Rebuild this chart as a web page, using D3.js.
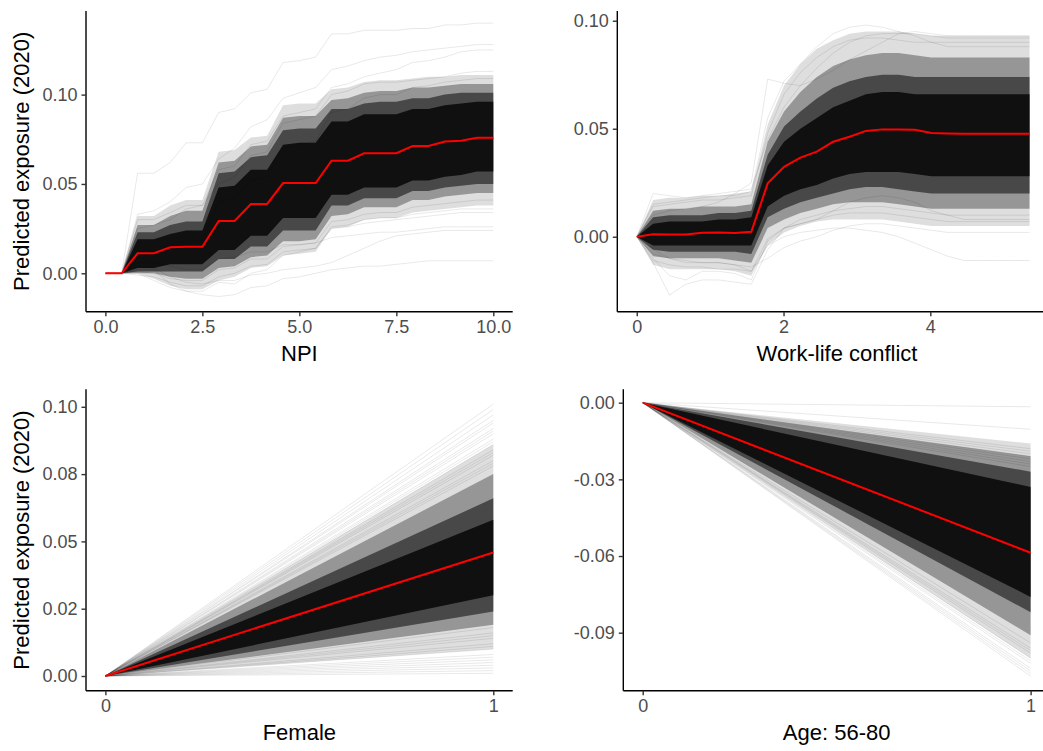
<!DOCTYPE html>
<html>
<head>
<meta charset="utf-8">
<script src="https://cdn.jsdelivr.net/npm/d3@7"></script>
<style>
  body { margin: 0; background: #fff; }
  svg { display: block; }
  text { font-family: "Liberation Sans", Arial, Helvetica, sans-serif; }
</style>
</head>
<body>
<svg id="chart" width="1043" height="751"></svg>
<script>
// ---------- NPI: ICE curves (grid, average curve, quantile envelopes, stray curves) ----------
const npiGrid = [0, 0.42, 0.83, 1.25, 1.67, 2.08, 2.5, 2.92, 3.33, 3.75, 4.17, 4.58, 5, 5.42, 5.83, 6.25, 6.67, 7.08, 7.5, 7.92, 8.33, 8.75, 9.17, 9.58, 10];
const npiMean = [0, 0, .0112, .0112, .0146, .0149, .0149, .0293, .0293, .0388, .0388, .0505, .0505, .0505, .063, .063, .0672, .0672, .0672, .0712, .0712, .0737, .0742, .0759, .0759];
const npiP98 = [0, 0, .032, .032, .038, .041, .041, .068, .069, .076, .077, .094, .095, .095, .103, .104, .107, .108, .108, .109, .110, .110, .111, .111, .111];
const npiP92 = [0, 0, .027, .027, .032, .035, .035, .062, .063, .071, .072, .087, .088, .088, .097, .098, .101, .102, .102, .104, .104, .105, .106, .106, .106];
const npiP84 = [0, 0, .023, .023, .027, .029, .029, .056, .057, .065, .066, .080, .081, .081, .092, .092, .095, .096, .096, .098, .098, .100, .101, .101, .101];
const npiP72 = [0, 0, .019, .019, .022, .024, .024, .048, .049, .058, .058, .072, .073, .073, .085, .085, .089, .089, .089, .092, .092, .094, .095, .096, .096];
const npiP28 = [0, 0, .003, .003, .005, .005, .005, .013, .013, .021, .021, .031, .031, .031, .044, .044, .048, .048, .048, .052, .052, .054, .055, .057, .057];
const npiP16 = [0, 0, .001, .001, .001, .001, .001, .008, .008, .015, .015, .024, .024, .024, .038, .038, .042, .042, .042, .046, .046, .048, .049, .050, .050];
const npiP8  = [0, 0, 0, 0, -.002, -.003, -.003, .003, .004, .009, .010, .018, .018, .019, .032, .033, .037, .037, .037, .041, .041, .043, .044, .045, .045];
const npiP2  = [0, 0, 0, -.003, -.007, -.009, -.009, -.004, -.002, .003, .004, .010, .011, .012, .025, .026, .030, .031, .031, .034, .035, .036, .037, .038, .038];
const npiSparse = [
  [0, 0, .056, .056, .062, .073, .073, .090, .092, .101, .103, .118, .119, .121, .134, .134, .136, .136, .136, .137, .137, .139, .139, .140, .140],
  [0, 0, .033, .035, .040, .048, .050, .064, .070, .082, .086, .098, .101, .104, .114, .116, .119, .121, .122, .124, .125, .126, .127, .128, .128],
  [0, 0, .025, .027, .030, .036, .038, .058, .060, .072, .074, .088, .090, .092, .104, .106, .110, .112, .114, .118, .119, .121, .124, .125, .125],
  [0, 0, 0, -.004, -.008, -.010, -.012, -.013, -.012, -.008, -.007, -.003, -.002, 0, .002, .003, .004, .004, .005, .006, .007, .007, .007, .007, .007],
  [0, 0, .004, .003, -.002, -.005, -.006, -.004, -.004, -.001, 0, .002, .003, .004, .006, .010, .014, .018, .021, .022, .023, .024, .024, .024, .024],
  [0, 0, .006, .006, .004, .002, .002, .008, .009, .012, .012, .016, .016, .017, .020, .021, .022, .023, .023, .024, .025, .026, .026, .026, .026],
  [0, 0, .002, .002, -.006, -.010, -.010, -.005, -.006, 0, .002, .010, .012, .014, .025, .026, .028, .029, .030, .031, .032, .033, .034, .034, .034],
  [0, 0, .030, .030, .034, .038, .038, .050, .054, .066, .068, .084, .086, .088, .100, .102, .106, .107, .107, .108, .109, .110, .112, .113, .113],
  [0, 0, .012, .012, .016, .018, .018, .040, .042, .052, .054, .070, .072, .074, .090, .092, .098, .100, .100, .104, .105, .107, .108, .109, .109],
  [0, 0, -.001, -.002, -.005, -.007, -.007, -.002, 0, .004, .005, .012, .013, .014, .026, .027, .030, .031, .031, .033, .034, .035, .036, .036, .036],
  [0, 0, .001, 0, -.003, -.004, -.004, .002, .003, .008, .008, .015, .016, .017, .029, .030, .033, .034, .034, .037, .038, .039, .040, .041, .041]
];
const npiXTicks = [0, 2.5, 5, 7.5, 10];
const npiXLabels = ["0.0", "2.5", "5.0", "7.5", "10.0"];
const npiYTicks = [0, 0.05, 0.10];
const npiYLabels = ["0.00", "0.05", "0.10"];

// ---------- Work-life conflict: ICE curves ----------
const wlcGrid = [0, .223, .446, .669, .892, 1.115, 1.338, 1.561, 1.784, 2.007, 2.23, 2.453, 2.676, 2.899, 3.122, 3.345, 3.568, 3.791, 4.014, 4.237, 4.46, 4.683, 4.906, 5.129, 5.352];
const wlcMean = [0, .0011, .001, .001, .0019, .002, .0017, .0023, .0247, .0324, .0366, .0394, .044, .0463, .049, .0497, .0497, .0495, .048, .0478, .0477, .0477, .0477, .0477, .0477];
const wlcP98 = [0, .017, .018, .018, .019, .019, .020, .021, .052, .070, .080, .087, .091, .094, .095, .095, .095, .094, .093, .093, .093, .093, .093, .093, .093];
const wlcP92 = [0, .012, .013, .013, .014, .014, .014, .015, .044, .058, .067, .074, .079, .082, .084, .085, .085, .084, .083, .083, .083, .083, .083, .083, .083];
const wlcP84 = [0, .009, .010, .010, .010, .011, .011, .012, .038, .051, .058, .064, .069, .072, .074, .075, .075, .074, .074, .074, .074, .074, .074, .074, .074];
const wlcP72 = [0, .006, .007, .007, .007, .008, .008, .009, .033, .044, .050, .055, .060, .063, .066, .067, .067, .066, .066, .066, .066, .066, .066, .066, .066];
const wlcP28 = [0, -.004, -.004, -.004, -.004, -.004, -.004, -.004, .014, .019, .022, .024, .027, .029, .030, .030, .030, .029, .028, .028, .028, .028, .028, .028, .028];
const wlcP16 = [0, -.006, -.007, -.007, -.007, -.007, -.007, -.008, .009, .013, .016, .018, .020, .022, .023, .023, .022, .021, .020, .020, .020, .020, .020, .020, .020];
const wlcP8  = [0, -.009, -.010, -.010, -.010, -.010, -.011, -.012, .004, .008, .011, .013, .015, .016, .016, .016, .015, .014, .013, .013, .013, .013, .013, .013, .013];
const wlcP2  = [0, -.013, -.015, -.015, -.015, -.015, -.016, -.018, -.004, .002, .005, .007, .008, .008, .008, .008, .007, .006, .005, .005, .005, .005, .005, .005, .005];
const wlcSparse = [
  [0, -.006, -.010, -.012, -.012, -.012, -.013, -.016, -.004, 0, .002, .003, .004, .004, .003, .002, 0, -.003, -.006, -.009, -.011, -.011, -.011, -.011, -.011],
  [0, -.012, -.027, -.022, -.020, -.020, -.021, -.022, -.006, .004, .008, .010, .012, .013, .014, .014, .013, .012, .011, .010, .010, .010, .010, .010, .010],
  [0, .010, .012, .013, .014, .016, .020, .025, .073, .071, .070, .073, .077, .082, .086, .090, .094, .095, .094, .093, .093, .093, .093, .093, .093],
  [0, .015, .016, .017, .018, .019, .019, .021, .055, .072, .080, .088, .094, .097, .098, .097, .095, .093, .090, .088, .088, .088, .088, .088, .088],
  [0, -.008, -.010, -.011, -.012, -.012, -.013, -.014, -.010, -.005, -.002, 0, .003, .005, .006, .006, .005, .004, .003, .002, .002, .002, .002, .002, .002],
  [0, .020, .019, .018, .019, .020, .021, .022, .045, .060, .070, .078, .085, .090, .093, .094, .094, .094, .093, .092, .092, .092, .092, .092, .092],
  [0, -.010, -.018, -.020, -.016, -.016, -.017, -.020, -.002, .004, .006, .008, .012, .016, .018, .019, .018, .016, .012, .010, .008, .008, .008, .008, .008],
  [0, .014, .015, .016, .017, .017, .018, .019, .048, .066, .076, .083, .088, .091, .092, .092, .091, .090, .090, .090, .090, .090, .090, .090, .090],
  [0, -.011, -.013, -.014, -.014, -.015, -.015, -.016, -.001, .004, .006, .008, .010, .011, .011, .011, .010, .009, .008, .007, .007, .007, .007, .007, .007]
];
const wlcXTicks = [0, 2, 4];
const wlcXLabels = ["0", "2", "4"];
const wlcYTicks = [0, 0.05, 0.10];
const wlcYLabels = ["0.00", "0.05", "0.10"];

// ---------- Female (binary): effect at 1, every curve starts at 0 ----------
const binaryGrid = [0, 1];
const femaleMean = 0.0459;
const femaleQuantiles = { p2: 0.010, p8: 0.019, p16: 0.024, p28: 0.030, p72: 0.058, p84: 0.066, p92: 0.075, p98: 0.086 };
const femaleSparse = [0.101, 0.099, 0.097, 0.095, 0.094, 0.092, 0.091, 0.090, 0.088, 0.087, 0.086, 0.084, 0.083, 0.082, 0.080, 0.079, 0.078,
                      0.018, 0.016, 0.015, 0.014, 0.012, 0.011, 0.010, 0.008, 0.007, 0.006, 0.005, 0.004, 0.003, 0.002, 0.001];
const femaleYTicks = [0, 0.025, 0.05, 0.075, 0.10];
const femaleYLabels = ["0.00", "0.02", "0.05", "0.08", "0.10"];

// ---------- Age 56-80 (binary) ----------
const ageMean = -0.0587;
const ageQuantiles = { p2: -0.100, p8: -0.091, p16: -0.082, p28: -0.076, p72: -0.033, p84: -0.027, p92: -0.021, p98: -0.016 };
const ageSparse = [-0.0016, -0.0104, -0.018, -0.019, -0.020, -0.021, -0.022, -0.023, -0.024, -0.025,
                   -0.094, -0.096, -0.097, -0.098, -0.100, -0.101, -0.102, -0.104, -0.105, -0.106, -0.107];
const ageYTicks = [0, -0.03, -0.06, -0.09];
const ageYLabels = ["0.00", "-0.03", "-0.06", "-0.09"];

const binaryXTicks = [0, 1];
const binaryXLabels = ["0", "1"];

const yTitle = "Predicted exposure (2020)";

// ---------- layout ----------
const svg = d3.select("#chart");

const panels = [
  { rect: { l: 86, t: 11, r: 512.7, b: 311.7 }, xDomain: [-0.5, 10.5], yDomain: [-0.0215, 0.1468],
    kind: "curve", grid: npiGrid, mean: npiMean,
    bands: [[npiP2, npiP98], [npiP8, npiP92], [npiP16, npiP84], [npiP28, npiP72]], sparse: npiSparse,
    xTicks: npiXTicks, xLabels: npiXLabels, yTicks: npiYTicks, yLabels: npiYLabels,
    title: "NPI", showYTitle: true },
  { rect: { l: 617.3, t: 11, r: 1049, b: 311.7 }, xDomain: [-0.265, 5.617], yDomain: [-0.0347, 0.1045],
    kind: "curve", grid: wlcGrid, mean: wlcMean,
    bands: [[wlcP2, wlcP98], [wlcP8, wlcP92], [wlcP16, wlcP84], [wlcP28, wlcP72]], sparse: wlcSparse,
    xTicks: wlcXTicks, xLabels: wlcXLabels, yTicks: wlcYTicks, yLabels: wlcYLabels,
    title: "Work-life conflict", titleX: 837, showYTitle: false },
  { rect: { l: 86, t: 389.3, r: 512.7, b: 690.7 }, xDomain: [-0.05, 1.05], yDomain: [-0.00546, 0.1065],
    kind: "binary", meanEnd: femaleMean, q: femaleQuantiles, sparseEnds: femaleSparse,
    xTicks: binaryXTicks, xLabels: binaryXLabels, yTicks: femaleYTicks, yLabels: femaleYLabels,
    title: "Female", showYTitle: true },
  { rect: { l: 623.3, t: 389.3, r: 1050, b: 690.7 }, xDomain: [-0.05, 1.05], yDomain: [-0.1127, 0.00524],
    kind: "binary", meanEnd: ageMean, q: ageQuantiles, sparseEnds: ageSparse,
    xTicks: binaryXTicks, xLabels: binaryXLabels, yTicks: ageYTicks, yLabels: ageYLabels,
    title: "Age: 56-80", showYTitle: false }
];

// stacked fill opacities, outermost envelope first
const bandOpacity = [0.13, 0.32, 0.52, 0.78];

panels.forEach((p, i) => {
  const x = d3.scaleLinear().domain(p.xDomain).range([p.rect.l, p.rect.r]);
  const y = d3.scaleLinear().domain(p.yDomain).range([p.rect.b, p.rect.t]);
  const g = svg.append("g").attr("class", "panel-" + i);

  const lineGen = d3.line().x(d => x(d[0])).y(d => y(d[1]));
  const areaGen = d3.area().x(d => x(d[0])).y0(d => y(d[1])).y1(d => y(d[2]));

  const strayStyle = sel => sel.attr("fill", "none").attr("stroke", "#000")
    .attr("stroke-opacity", 0.09).attr("stroke-width", 1);

  if (p.kind === "curve") {
    // stray individual curves
    p.sparse.forEach(vals => {
      g.append("path").attr("d", lineGen(p.grid.map((gx, k) => [gx, vals[k]]))).call(strayStyle);
    });
    // quantile envelopes of the individual curves
    p.bands.forEach((b, k) => {
      g.append("path")
        .attr("d", areaGen(p.grid.map((gx, j) => [gx, b[0][j], b[1][j]])))
        .attr("fill", "#000").attr("fill-opacity", bandOpacity[k]);
    });
    // average curve
    g.append("path")
      .attr("d", lineGen(p.grid.map((gx, k) => [gx, p.mean[k]])))
      .attr("fill", "none").attr("stroke", "#ff0000").attr("stroke-width", 2);
  } else {
    p.sparseEnds.forEach(v => {
      g.append("path").attr("d", lineGen([[binaryGrid[0], 0], [binaryGrid[1], v]])).call(strayStyle);
    });
    const q = p.q;
    [[q.p2, q.p98], [q.p8, q.p92], [q.p16, q.p84], [q.p28, q.p72]].forEach((b, k) => {
      g.append("path")
        .attr("d", areaGen([[binaryGrid[0], 0, 0], [binaryGrid[1], b[0], b[1]]]))
        .attr("fill", "#000").attr("fill-opacity", bandOpacity[k]);
    });
    g.append("path")
      .attr("d", lineGen([[binaryGrid[0], 0], [binaryGrid[1], p.meanEnd]]))
      .attr("fill", "none").attr("stroke", "#ff0000").attr("stroke-width", 2);
  }

  // x axis
  const xAxis = d3.axisBottom(x).tickValues(p.xTicks)
    .tickFormat((d, k) => p.xLabels[k]).tickSize(4.5).tickPadding(4);
  const gx = g.append("g").attr("transform", `translate(0,${p.rect.b})`).call(xAxis);
  // y axis
  const yAxis = d3.axisLeft(y).tickValues(p.yTicks)
    .tickFormat((d, k) => p.yLabels[k]).tickSize(4.5).tickPadding(4);
  const gy = g.append("g").attr("transform", `translate(${p.rect.l},0)`).call(yAxis);

  [gx, gy].forEach(ax => {
    ax.select(".domain").attr("stroke", "#000").attr("stroke-width", 1.4);
    ax.selectAll(".tick line").attr("stroke", "#333").attr("stroke-width", 1.4);
    ax.selectAll(".tick text").attr("fill", "#4d4d4d").style("font-size", "18px");
  });
  // plain axis lines without end caps
  gx.select(".domain").attr("d", `M${p.rect.l},0H${p.rect.r}`);
  gy.select(".domain").attr("d", `M0,${p.rect.t}V${p.rect.b}`);

  // axis titles
  const cx = p.titleX !== undefined ? p.titleX : (p.rect.l + p.rect.r) / 2;
  g.append("text")
    .attr("x", cx).attr("y", p.rect.b + 49)
    .attr("text-anchor", "middle").attr("fill", "#000")
    .style("font-size", "22px").text(p.title);

  if (p.showYTitle) {
    const cy = (p.rect.t + p.rect.b) / 2;
    g.append("text")
      .attr("transform", `translate(29,${cy}) rotate(-90)`)
      .attr("text-anchor", "middle").attr("fill", "#000")
      .style("font-size", "22px").text(yTitle);
  }
});
</script>
</body>
</html>
